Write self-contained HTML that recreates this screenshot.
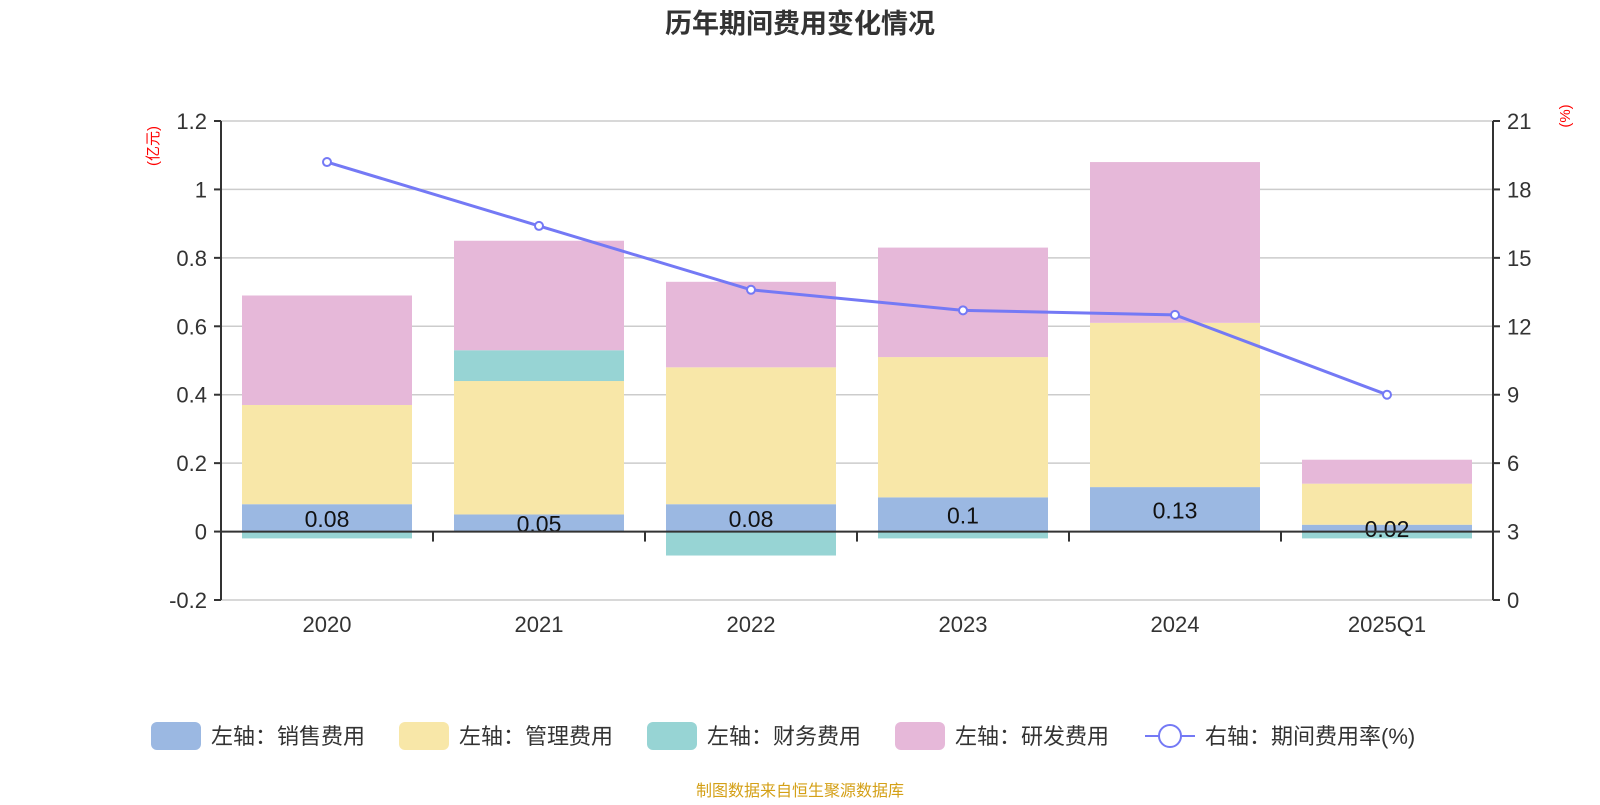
<!DOCTYPE html>
<html><head><meta charset="utf-8"><style>
body{margin:0;background:#fff;}
svg text{font-family:"Liberation Sans","Noto Sans CJK SC",sans-serif;}
</style></head><body>
<svg width="1600" height="800" id="c">
<text x="800" y="33" text-anchor="middle" font-size="27" font-weight="bold" fill="#333">历年期间费用变化情况</text>
<text transform="translate(158,146) rotate(-90)" text-anchor="middle" font-size="15" fill="red">(亿元)</text>
<text transform="translate(1570,116) rotate(-90)" text-anchor="middle" font-size="15" fill="red">(%)</text>
<g id="g"></g>
<text x="800" y="796" text-anchor="middle" font-size="16" fill="#d4a017">制图数据来自恒生聚源数据库</text>
</svg>
<script>
const categories=["2020","2021","2022","2023","2024","2025Q1"];
const sales=[0.08,0.05,0.08,0.1,0.13,0.02];
const admin=[0.29,0.39,0.40,0.41,0.48,0.12];
const finance=[-0.02,0.09,-0.07,-0.02,0,-0.02];
const rnd=[0.32,0.32,0.25,0.32,0.47,0.07];
const rate=[19.2,16.4,13.6,12.7,12.5,9.0];
const leftTicks=[-0.2,0,0.2,0.4,0.6,0.8,1,1.2];
const rightTicks=[0,3,6,9,12,15,18,21];
const NS="http://www.w3.org/2000/svg";
const g=document.getElementById('g');
const X0=221,X1=1493,YT=121,YB=600;
const yL=v=>YB-(v+0.2)/1.4*(YB-YT);
const yR=v=>YB-v/21*(YB-YT);
const bw=(X1-X0)/categories.length;
const xC=i=>X0+bw*(i+0.5);
function el(t,a,txt){const e=document.createElementNS(NS,t);for(const k in a)e.setAttribute(k,a[k]);if(txt!==undefined)e.textContent=txt;g.appendChild(e);return e;}
leftTicks.forEach((v,i)=>{
 const l=el('line',{x1:X0,x2:X1,y1:yL(v),y2:yL(v),stroke:'#ccc','stroke-width':1.5});
 
 
 const t=el('text',{x:X0-14,y:yL(v)+8,'text-anchor':'end','font-size':22,fill:'#333'},String(v));
 
 
 el('line',{x1:X0-7,x2:X0,y1:yL(v),y2:yL(v),stroke:'#333','stroke-width':2});
});
rightTicks.forEach(v=>{
 const t=el('text',{x:X1+14,y:yR(v)+8,'font-size':22,fill:'#333'},String(v));
 
 
 el('line',{x1:X1,x2:X1+7,y1:yR(v),y2:yR(v),stroke:'#333','stroke-width':2});
});
const colors=['#9bb8e2','#f8e7a8','#97d4d4','#e6b8d9'];
const series=[sales,admin,finance,rnd];
const names=['sales','admin','finance','rnd'];
categories.forEach((c,i)=>{
 let pos=0,neg=0;
 series.forEach((s,k)=>{
  const v=s[i];let a,b;
  if(v>=0){a=pos;b=pos+v;pos=b;}else{a=neg;b=neg+v;neg=b;}
  const r=el('rect',{x:xC(i)-85,width:170,y:Math.min(yL(a),yL(b)),height:Math.abs(yL(a)-yL(b)),fill:colors[k]});
  
  
 });
 const t=el('text',{x:xC(i),y:yL(sales[i]/2)+9,'text-anchor':'middle','font-size':23,fill:'#111'},String(sales[i]));
 
 
 const xt=el('text',{x:xC(i),y:632,'text-anchor':'middle','font-size':22,fill:'#333'},c);
 
 
});
el('line',{x1:X0,x2:X1,y1:yL(0),y2:yL(0),stroke:'#333','stroke-width':2});
for(let i=0;i<=categories.length;i++)el('line',{x1:X0+bw*i,x2:X0+bw*i,y1:yL(0),y2:yL(0)+10,stroke:'#333','stroke-width':2});
el('line',{x1:X0,x2:X0,y1:YT,y2:YB,stroke:'#333','stroke-width':2});
el('line',{x1:X1,x2:X1,y1:YT,y2:YB,stroke:'#333','stroke-width':2});
const pl=el('polyline',{points:rate.map((v,i)=>xC(i)+','+yR(v)).join(' '),fill:'none',stroke:'#7479f5','stroke-width':3});


rate.forEach((v,i)=>{
 const p=el('circle',{cx:xC(i),cy:yR(v),r:4,fill:'#fff',stroke:'#7479f5','stroke-width':2});
 
 
});
const leg=[['左轴：销售费用',0],['左轴：管理费用',1],['左轴：财务费用',2],['左轴：研发费用',3]];
const lx=[151,399,647,895];
leg.forEach((l,i)=>{
 const r=el('rect',{x:lx[i],y:722,width:50,height:28,rx:6,fill:colors[l[1]]});
 
 
 const t=el('text',{x:lx[i]+60,y:744,'font-size':22,fill:'#333'},l[0]);
 
 
});
el('line',{x1:1145,x2:1195,y1:736,y2:736,stroke:'#7479f5','stroke-width':2});
el('circle',{cx:1170,cy:736,r:11,fill:'#fff',stroke:'#7479f5','stroke-width':2});
const lt=el('text',{x:1205,y:744,'font-size':22,fill:'#333'},'右轴：期间费用率(%)');


</script>
</body></html>
